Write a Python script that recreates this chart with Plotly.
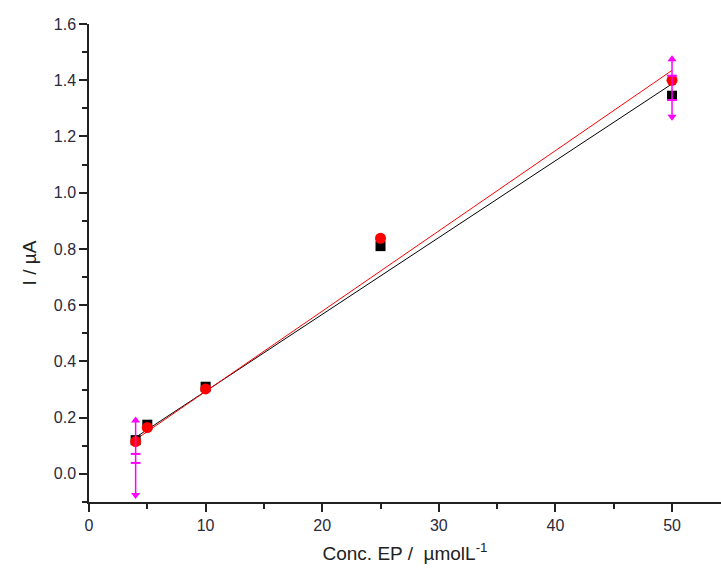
import plotly.graph_objects as go

# Data
conc = [4, 5, 10, 25, 50]
black_i = [0.12, 0.175, 0.31, 0.81, 1.345]
red_i = [0.115, 0.165, 0.302, 0.838, 1.40]

fit_x = [4, 50]
black_fit = [0.13, 1.387]
red_fit = [0.122, 1.435]

err_x = [4, 50]
err_center = [0.115, 1.40]
err_low = [-0.075, 1.27]
err_high = [0.19, 1.475]
cap_x = [4, 4, 50, 50]
cap_y = [0.071, 0.039, 1.416, 1.33]

fig = go.Figure()
fig.add_trace(go.Scatter(x=fit_x, y=black_fit, mode="lines",
                         line=dict(color="black", width=1), showlegend=False))
fig.add_trace(go.Scatter(x=fit_x, y=red_fit, mode="lines",
                         line=dict(color="red", width=1), showlegend=False))
fig.add_trace(go.Scatter(x=conc, y=black_i, mode="markers",
                         marker=dict(symbol="square", size=10, color="black"), showlegend=False))
fig.add_trace(go.Scatter(x=conc, y=red_i, mode="markers",
                         marker=dict(symbol="circle", size=11, color="red"), showlegend=False))
# error bars
fig.add_trace(go.Scatter(
    x=err_x, y=err_center, mode="markers", marker=dict(size=1, color="rgba(0,0,0,0)"),
    error_y=dict(type="data", symmetric=False,
                 array=[h - c for h, c in zip(err_high, err_center)],
                 arrayminus=[c - l for l, c in zip(err_low, err_center)],
                 color="#ff00ff", thickness=1.5, width=0),
    showlegend=False))
fig.add_trace(go.Scatter(x=err_x, y=err_high, mode="markers",
                         marker=dict(symbol="triangle-up", size=8, color="#ff00ff"), showlegend=False))
fig.add_trace(go.Scatter(x=err_x, y=err_low, mode="markers",
                         marker=dict(symbol="triangle-down", size=8, color="#ff00ff"), showlegend=False))
fig.add_trace(go.Scatter(x=cap_x, y=cap_y, mode="markers",
                         marker=dict(symbol="line-ew", size=7, color="#ff00ff",
                                     line=dict(color="#ff00ff", width=2)), showlegend=False))

tickfont = dict(family="Liberation Sans, Arial, sans-serif", size=16, color="#2a2a3a")
titlefont = dict(family="Liberation Sans, Arial, sans-serif", size=19, color="#222222")

fig.update_layout(
    width=721, height=574,
    margin=dict(l=89, r=0, t=24, b=72),
    paper_bgcolor="white", plot_bgcolor="white",
    xaxis=dict(range=[0, 54.2], dtick=10, tick0=0, ticks="outside", ticklen=8, tickwidth=1.5,
               tickcolor="#222", showline=True, linecolor="#222", linewidth=1.5,
               showgrid=False, zeroline=False, tickfont=tickfont,
               minor=dict(dtick=5, ticks="outside", ticklen=5, tickwidth=1.5, tickcolor="#222"),
               title=dict(text="Conc. EP /  µmolL<sup>-1</sup>", font=titlefont, standoff=14)),
    yaxis=dict(range=[-0.1, 1.6], dtick=0.2, tick0=0, tickformat=".1f", ticks="outside",
               ticklen=8, tickwidth=1.5, tickcolor="#222", showline=True, linecolor="#222",
               linewidth=1.5, showgrid=False, zeroline=False, tickfont=tickfont,
               minor=dict(dtick=0.1, ticks="outside", ticklen=5, tickwidth=1.5, tickcolor="#222"),
               title=dict(text="I / µA", font=titlefont, standoff=12)),
)

fig.write_html("out.html")
